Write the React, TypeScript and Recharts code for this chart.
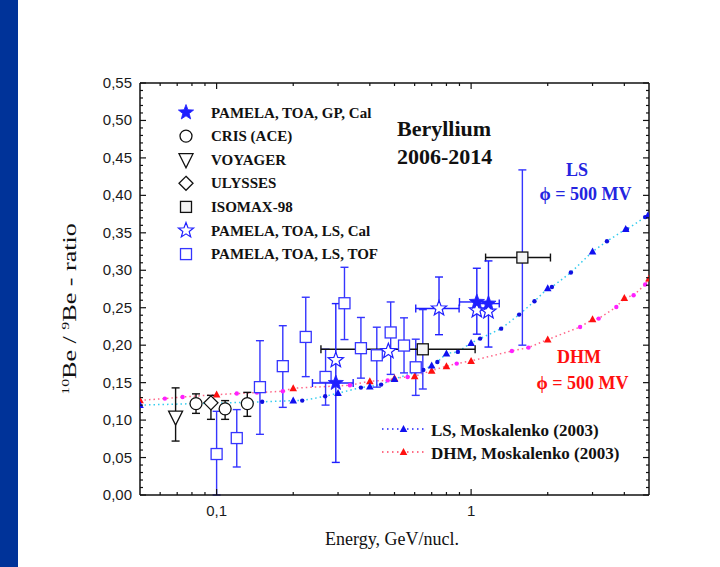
import React from "react";
import { ComposedChart, XAxis, YAxis, Scatter, Line, ErrorBar } from "recharts";

const W = 720;
const H = 567;

const BLUE = "#1f1fff";
const TOF_BLUE = "#3535ff";
const RED = "#ff1010";
const MAGENTA = "#ff20ff";

// energy in GeV/nucl., ratio 10Be/9Be; error offsets as [low, high]
const pamelaGpCal = [
  { e: 0.294, v: 0.1495, ex: [0.056, 0.05], ey: [0.106, 0.106] },
  { e: 1.053, v: 0.2577, ex: [0.153, 0.117], ey: [0.043, 0.045] },
  { e: 1.17, v: 0.2555, ex: [0.117, 0.12], ey: [0.058, 0.057] },
];

const pamelaLsCal = [
  { e: 0.294, v: 0.18 },
  { e: 0.473, v: 0.192 },
  { e: 0.748, v: 0.249, ex: [0.142, 0.149], ey: [0.035, 0.042] },
  { e: 1.053, v: 0.2466 },
  { e: 1.17, v: 0.245 },
];

const pamelaLsTof = [
  { e: 0.1, v: 0.0547, ey: [0.0547, 0.057] },
  { e: 0.12, v: 0.076, ey: [0.0386, 0.038] },
  { e: 0.148, v: 0.144, ey: [0.063, 0.062] },
  { e: 0.182, v: 0.172, ey: [0.055, 0.054] },
  { e: 0.224, v: 0.211, ey: [0.053, 0.053] },
  { e: 0.268, v: 0.1576, ey: [0.0376, 0.037] },
  { e: 0.318, v: 0.256, ey: [0.0485, 0.048] },
  { e: 0.369, v: 0.196, ey: [0.04, 0.041] },
  { e: 0.426, v: 0.1865, ey: [0.0425, 0.0375] },
  { e: 0.483, v: 0.217, ey: [0.056, 0.0407] },
  { e: 0.545, v: 0.1995, ey: [0.0365, 0.037] },
  { e: 0.606, v: 0.1705, ey: [0.0375, 0.0375] },
];

const cris = [
  { e: 0.083, v: 0.122, ey: [0.013, 0.013] },
  { e: 0.108, v: 0.115, ey: [0.014, 0.011] },
  { e: 0.132, v: 0.122, ey: [0.017, 0.015] },
];

const voyager = [{ e: 0.069, v: 0.104, ey: [0.032, 0.039] }];

const ulysses = [{ e: 0.095, v: 0.123, ey: [0.022, 0.01] }];

const isomax = [
  { e: 0.646, v: 0.1945, ex: [0.389, 0.391], ey: [0.053, 0.053] },
  { e: 1.59, v: 0.317, ex: [0.45, 0.46], ey: [0.117, 0.117] },
];

// Moskalenko (2003) model curves, [energy, ratio]
const lsTriangles = [
  [0.05, 0.12], [0.2, 0.126], [0.3, 0.136], [0.4, 0.145], [0.5, 0.155],
  [0.7, 0.173], [0.8, 0.189], [1.0, 0.203], [2.0, 0.276], [3.0, 0.325],
  [4.05, 0.355], [4.95, 0.373],
];
const lsDots = [
  [0.151, 0.1244], [0.217, 0.126], [0.267, 0.1318], [0.369, 0.1434],
  [0.443, 0.1474], [0.649, 0.167], [0.737, 0.1776], [0.887, 0.191],
  [1.085, 0.2088], [1.312, 0.2221], [1.544, 0.2408], [1.774, 0.2586],
  [2.077, 0.2777], [2.466, 0.297], [3.418, 0.3387], [4.09, 0.3547], [4.83, 0.371],
];
const dhmTriangles = [
  [0.05, 0.1264], [0.1, 0.134], [0.2, 0.1425], [0.4, 0.152], [0.5, 0.156],
  [0.6, 0.1585], [0.7, 0.166], [0.8, 0.172], [1.0, 0.179], [2.0, 0.2075],
  [3.0, 0.2346], [4.0, 0.263], [5.0, 0.289],
];
const dhmDots = [
  [0.0626, 0.1287], [0.0735, 0.1308], [0.12, 0.1354], [0.144, 0.1367],
  [0.182, 0.1385], [0.334, 0.1465], [0.47, 0.153], [0.563, 0.1575],
  [0.878, 0.1754], [1.446, 0.1923], [1.68, 0.1968], [2.68, 0.2243],
  [3.17, 0.2355], [3.72, 0.251], [4.35, 0.2666], [4.83, 0.281],
];

const majorX = [0.1, 1];
const xTicks = [0.06, 0.07, 0.08, 0.09, 0.1, 0.2, 0.3, 0.4, 0.5, 0.6, 0.7, 0.8, 0.9, 1, 2, 3, 4];
const yTicks = Array.from({ length: 56 }, (_, i) => i / 100);
const isMajorY = (v: number) => Math.round(v * 100) % 5 === 0;

const toPts = (arr: number[][]) => arr.map(([e, v]) => ({ e, v }));
const merge = (a: number[][], b: number[][]) => toPts([...a, ...b].sort((p, q) => p[0] - q[0]));

const lsCurve = merge(lsTriangles, lsDots);
const dhmCurve = merge(dhmTriangles, dhmDots);

const fmtX = (v: number) => String(v).replace(".", ",");
const fmtY = (v: number) => v.toFixed(2).replace(".", ",");

const starPath = (cx: number, cy: number, r: number) => {
  const pts: string[] = [];
  for (let i = 0; i < 10; i++) {
    const rr = i % 2 ? r * 0.42 : r;
    const a = -Math.PI / 2 + (i * Math.PI) / 5;
    pts.push(`${(cx + rr * Math.cos(a)).toFixed(2)},${(cy + rr * Math.sin(a)).toFixed(2)}`);
  }
  return `M${pts.join("L")}Z`;
};

const FilledStar = ({ cx, cy }: any) => <path d={starPath(cx, cy, 8)} fill={BLUE} stroke={BLUE} strokeWidth={0.8} />;
const OpenStar = ({ cx, cy }: any) => <path d={starPath(cx, cy, 8)} fill="#fff" stroke={BLUE} strokeWidth={1.2} />;
const OpenCircle = ({ cx, cy }: any) => <circle cx={cx} cy={cy} r={6} fill="#fff" stroke="#111" strokeWidth={1.3} />;
const TriDown = ({ cx, cy }: any) => (
  <path d={`M${cx - 7},${cy - 6}L${cx + 7},${cy - 6}L${cx},${cy + 8}Z`} fill="#fff" stroke="#111" strokeWidth={1.3} />
);
const Diamond = ({ cx, cy }: any) => (
  <path d={`M${cx},${cy - 7}L${cx + 7},${cy}L${cx},${cy + 7}L${cx - 7},${cy}Z`} fill="#fff" stroke="#111" strokeWidth={1.3} />
);
const BlackSquare = ({ cx, cy }: any) => (
  <rect x={cx - 5.5} y={cy - 5.5} width={11} height={11} fill="#f4f4f4" stroke="#111" strokeWidth={1.3} />
);
const BlueSquare = ({ cx, cy }: any) => (
  <rect x={cx - 5.5} y={cy - 5.5} width={11} height={11} fill="#fff" stroke={TOF_BLUE} strokeWidth={1.3} />
);
const Tri = (color: string) => ({ cx, cy }: any) => (
  <path d={`M${cx},${cy - 4}L${cx + 3.8},${cy + 3}L${cx - 3.8},${cy + 3}Z`} fill={color} />
);
const Dot = (color: string) => ({ cx, cy }: any) => <circle cx={cx} cy={cy} r={2.2} fill={color} />;

const sans = "'Liberation Sans', Arial, sans-serif";
const serif = "'Liberation Serif', 'Times New Roman', serif";
const INK = "#111";
const frame = { stroke: INK, strokeWidth: 1.5 };

// inward ticks: long for labelled values, short for the minor ones
const BottomTick = ({ x, y, payload }: any) => {
  const major = majorX.includes(payload.value);
  return (
    <g>
      <line x1={x} x2={x} y1={y} y2={y - (major ? 6 : 3)} stroke={INK} strokeWidth={1.2} />
      {major && (
        <text x={x} y={y + 21} textAnchor="middle" fontFamily={sans} fontSize={15} fill="#1a1a1a">{fmtX(payload.value)}</text>
      )}
    </g>
  );
};
const TopTick = ({ x, y, payload }: any) => {
  const major = majorX.includes(payload.value);
  return <line x1={x} x2={x} y1={y} y2={y + (major ? 6 : 3)} stroke={INK} strokeWidth={1.2} />;
};
const LeftTick = ({ x, y, payload }: any) => {
  const major = isMajorY(payload.value);
  return (
    <g>
      <line x1={x} x2={x + (major ? 6 : 3)} y1={y} y2={y} stroke={INK} strokeWidth={1.2} />
      {major && (
        <text x={x - 8} y={y + 5} textAnchor="end" fontFamily={sans} fontSize={15} fill="#1a1a1a">{fmtY(payload.value)}</text>
      )}
    </g>
  );
};
const RightTick = ({ x, y, payload }: any) => {
  const major = isMajorY(payload.value);
  return <line x1={x} x2={x - (major ? 6 : 3)} y1={y} y2={y} stroke={INK} strokeWidth={1.2} />;
};

const xCommon = {
  type: "number" as const, dataKey: "e", scale: "log" as const, domain: [0.05, 5],
  allowDataOverflow: true, height: 1, interval: 0 as const, ticks: xTicks,
  tickLine: false, tickSize: 0, tickMargin: 0, axisLine: frame,
};
const yCommon = {
  type: "number" as const, dataKey: "v", domain: [0, 0.55],
  allowDataOverflow: true, width: 1, interval: 0 as const, ticks: yTicks,
  tickLine: false, tickSize: 0, tickMargin: 0, axisLine: frame,
};

const legendRows = [
  { label: "PAMELA, TOA, GP, Cal", Shape: FilledStar },
  { label: "CRIS (ACE)", Shape: OpenCircle },
  { label: "VOYAGER", Shape: TriDown },
  { label: "ULYSSES", Shape: Diamond },
  { label: "ISOMAX-98", Shape: BlackSquare },
  { label: "PAMELA, TOA, LS, Cal", Shape: OpenStar },
  { label: "PAMELA, TOA, LS, TOF", Shape: BlueSquare },
];

export default function App() {
  return (
    <div style={{ position: "absolute", left: 0, top: 0, width: W, height: H, background: "#fff", overflow: "hidden" }}>
      <div style={{ position: "absolute", left: 0, top: 0, width: 18, height: H, background: "#003399" }} />
      <div style={{ position: "absolute", left: 0, top: 0 }}>
        <ComposedChart width={W} height={H} margin={{ top: 82, right: 70, bottom: 71, left: 139 }}>
          <XAxis xAxisId="x" {...xCommon} tick={BottomTick} />
          <XAxis xAxisId="xt" {...xCommon} orientation="top" tick={TopTick} />
          <YAxis yAxisId="y" {...yCommon} tick={LeftTick} />
          <YAxis yAxisId="yr" {...yCommon} orientation="right" tick={RightTick} />

          <Line xAxisId="x" yAxisId="y" data={dhmCurve} dataKey="v" stroke="#ff6688" strokeWidth={1.5} strokeDasharray="1.5 3" dot={false} isAnimationActive={false} />
          <Line xAxisId="x" yAxisId="y" data={lsCurve} dataKey="v" stroke="#33ccee" strokeWidth={1.5} strokeDasharray="1.5 3" dot={false} isAnimationActive={false} />
          <Scatter xAxisId="x" yAxisId="y" data={toPts(dhmDots)} shape={Dot(MAGENTA)} isAnimationActive={false} />
          <Scatter xAxisId="x" yAxisId="y" data={toPts(dhmTriangles)} shape={Tri(RED)} isAnimationActive={false} />
          <Scatter xAxisId="x" yAxisId="y" data={toPts(lsDots)} shape={Dot("#1010e0")} isAnimationActive={false} />
          <Scatter xAxisId="x" yAxisId="y" data={toPts(lsTriangles)} shape={Tri("#1010f0")} isAnimationActive={false} />

          <Scatter xAxisId="x" yAxisId="y" data={pamelaLsTof} shape={BlueSquare} isAnimationActive={false}>
            <ErrorBar dataKey="ey" direction="y" width={4} stroke={TOF_BLUE} strokeWidth={1.4} />
          </Scatter>
          <Scatter xAxisId="x" yAxisId="y" data={isomax} shape={BlackSquare} isAnimationActive={false}>
            <ErrorBar dataKey="ex" direction="x" width={4} stroke={INK} strokeWidth={1.4} />
            <ErrorBar dataKey="ey" direction="y" width={4} stroke={TOF_BLUE} strokeWidth={1.4} />
          </Scatter>
          <Scatter xAxisId="x" yAxisId="y" data={voyager} shape={TriDown} isAnimationActive={false}>
            <ErrorBar dataKey="ey" direction="y" width={4} stroke={INK} strokeWidth={1.4} />
          </Scatter>
          <Scatter xAxisId="x" yAxisId="y" data={cris} shape={OpenCircle} isAnimationActive={false}>
            <ErrorBar dataKey="ey" direction="y" width={4} stroke={INK} strokeWidth={1.4} />
          </Scatter>
          <Scatter xAxisId="x" yAxisId="y" data={ulysses} shape={Diamond} isAnimationActive={false}>
            <ErrorBar dataKey="ey" direction="y" width={4} stroke={INK} strokeWidth={1.4} />
          </Scatter>
          <Scatter xAxisId="x" yAxisId="y" data={pamelaLsCal} shape={OpenStar} isAnimationActive={false}>
            <ErrorBar dataKey="ex" direction="x" width={4} stroke={BLUE} strokeWidth={1.4} />
            <ErrorBar dataKey="ey" direction="y" width={4} stroke={BLUE} strokeWidth={1.4} />
          </Scatter>
          <Scatter xAxisId="x" yAxisId="y" data={pamelaGpCal} shape={FilledStar} isAnimationActive={false}>
            <ErrorBar dataKey="ex" direction="x" width={4} stroke={BLUE} strokeWidth={1.4} />
            <ErrorBar dataKey="ey" direction="y" width={4} stroke={BLUE} strokeWidth={1.4} />
          </Scatter>
        </ComposedChart>
      </div>

      <svg style={{ position: "absolute", left: 0, top: 0, pointerEvents: "none" }} width={W} height={H}>
        {legendRows.map(({ label, Shape }, i) => {
          const y = 112.5 + i * 23.6;
          return (
            <g key={label}>
              <Shape cx={186} cy={y} />
              <text x={211} y={y + 5} fontFamily={serif} fontWeight="bold" fontSize={15} fill={INK}>{label}</text>
            </g>
          );
        })}

        <text x={397} y={136} fontFamily={serif} fontWeight="bold" fontSize={22} fill={INK}>Beryllium</text>
        <text x={397} y={164} fontFamily={serif} fontWeight="bold" fontSize={22} fill={INK}>2006-2014</text>

        <text x={577} y={176} textAnchor="middle" fontFamily={serif} fontWeight="bold" fontSize={18} fill="#2424e0">LS</text>
        <text x={585.5} y={200} textAnchor="middle" fontFamily={serif} fontWeight="bold" fontSize={18} fill="#2424e0">ϕ = 500 MV</text>
        <text x={579} y={363} textAnchor="middle" fontFamily={serif} fontWeight="bold" fontSize={18} fill={RED}>DHM</text>
        <text x={582.5} y={389} textAnchor="middle" fontFamily={serif} fontWeight="bold" fontSize={18} fill={RED}>ϕ = 500 MV</text>

        <line x1={382} x2={425} y1={429} y2={429} stroke="#2020ff" strokeWidth={1.4} strokeDasharray="1.5 3.5" />
        {Tri("#1010f0")({ cx: 403.5, cy: 429 })}
        <text x={431} y={436} fontFamily={serif} fontWeight="bold" fontSize={17} fill={INK}>LS, Moskalenko (2003)</text>
        <line x1={382} x2={425} y1={452} y2={452} stroke="#ff4060" strokeWidth={1.4} strokeDasharray="1.5 3.5" />
        {Tri(RED)({ cx: 403.5, cy: 452 })}
        <text x={431} y={459} fontFamily={serif} fontWeight="bold" fontSize={17} fill={INK}>DHM, Moskalenko (2003)</text>

        <text x={392} y={545} textAnchor="middle" fontFamily={serif} fontSize={18} fill={INK}>Energy, GeV/nucl.</text>

        <text transform="translate(76,309) rotate(-90) scale(1.45,1)" textAnchor="middle" fontFamily={serif} fontSize={18} fill={INK}>
          <tspan fontSize={11} dy={-7}>10</tspan>
          <tspan dy={7}>Be / </tspan>
          <tspan fontSize={11} dy={-7}>9</tspan>
          <tspan dy={7}>Be - ratio</tspan>
        </text>
      </svg>
    </div>
  );
}
